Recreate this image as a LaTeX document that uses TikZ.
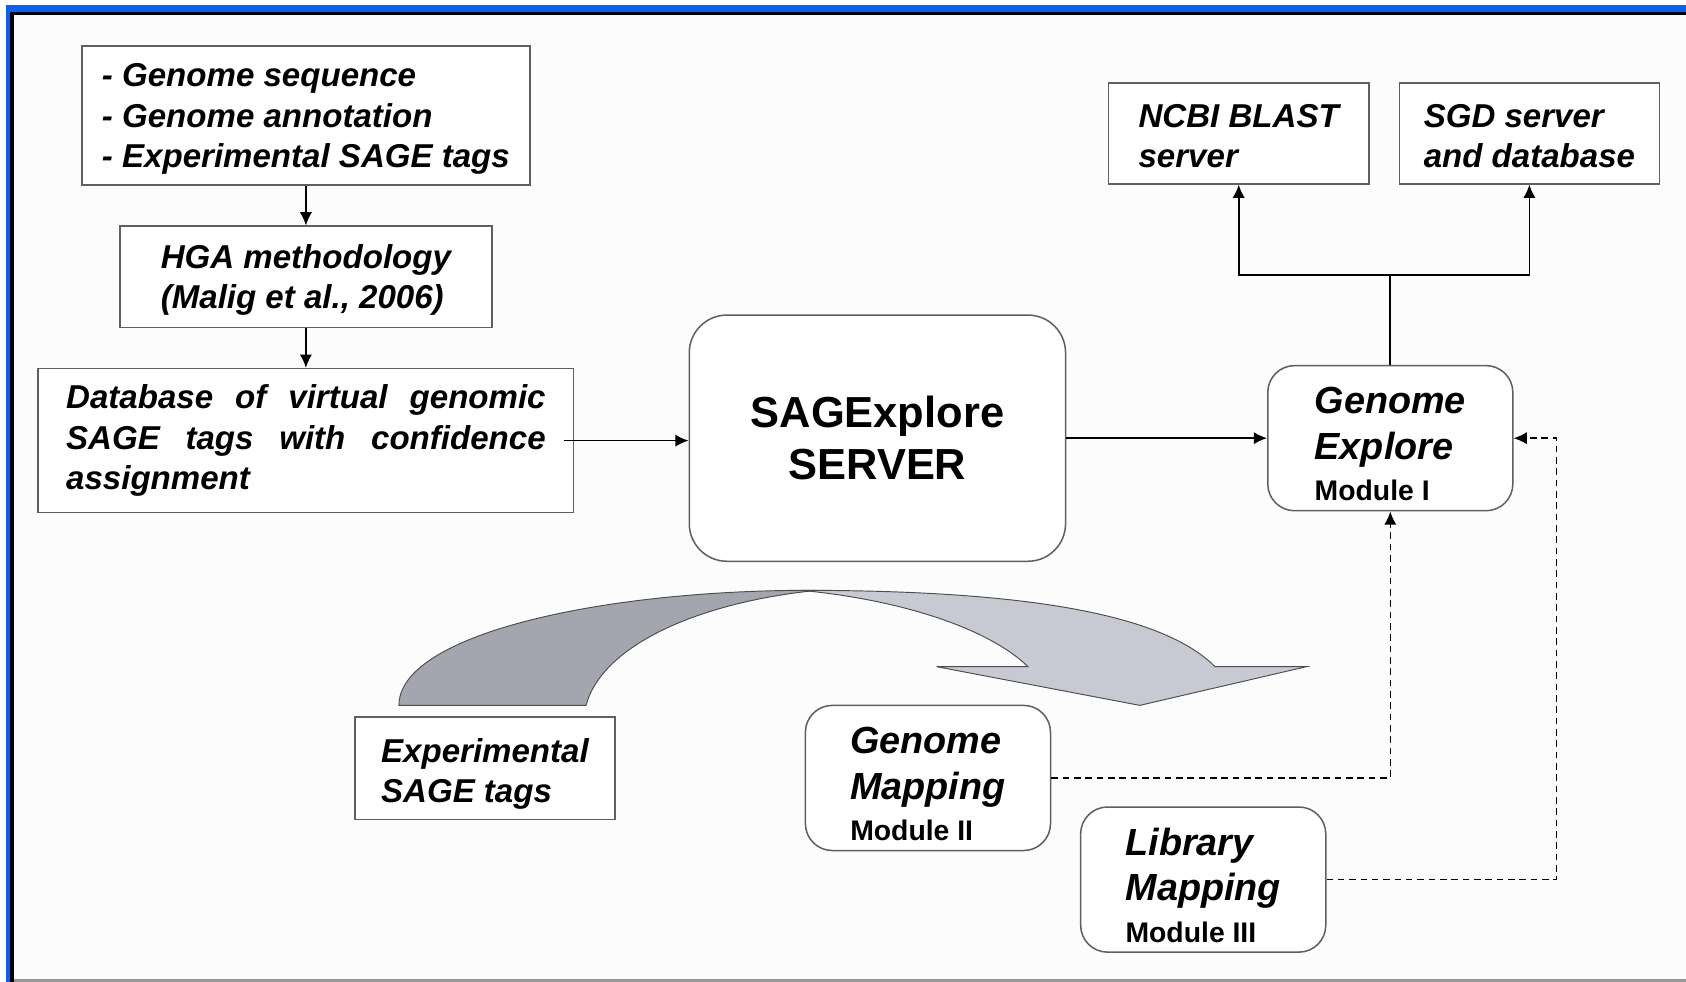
\documentclass[tikz,border=0pt]{standalone}
\usepackage{fontspec}
\setmainfont{Liberation Sans}
\usetikzlibrary{positioning,arrows.meta}
\definecolor{frameblue}{RGB}{8,96,246}
\definecolor{boxgray}{RGB}{95,95,95}
\definecolor{paper}{RGB}{252,252,252}
\definecolor{ribbondark}{RGB}{163,166,175}
\definecolor{ribbonlight}{RGB}{200,202,211}
\newcommand{\bodyfont}{\fontsize{17.5}{21.3}\selectfont\bfseries\itshape}
\newcommand{\modtitle}{\fontsize{20}{24}\selectfont\bfseries\itshape}
\newcommand{\modfont}{\fontsize{15}{18}\selectfont\bfseries\upshape}
\newcommand{\lift}[1]{\rule{0pt}{#1}}
\hyphenpenalty=10000

\begin{document}
\begin{tikzpicture}[x=0.02cm,y=-0.02cm,>={Latex[length=7pt,width=6.5pt]},
 box/.style={draw=boxgray,line width=0.8pt,fill=white,align=left,inner sep=0pt,font=\bodyfont},
 lbox/.style={box,text depth=0pt},
 modbox/.style={lbox,rounded corners=0.5cm,minimum width=4.56cm,minimum height=2.7cm,font=\modtitle},
 conn/.style={line width=0.9pt},
 dconn/.style={line width=0.8pt,dash pattern=on 3.5pt off 2.5pt}]
 \useasboundingbox (0,0) rectangle (1568,913);
 % frame
 \fill[white] (0,0) rectangle (1568,913);
 \fill[frameblue] (5.6,4.6) rectangle (1568,913);
 \fill[black] (9.3,11.2) rectangle (1568,913);
 \fill[paper] (13,14) rectangle (1568,910.5);
 \fill[black!40] (13,910.5) rectangle (1568,913);
 % input chain
 \node[lbox,minimum width=8.34cm,minimum height=2.58cm](genome) at (284.5,107.5)
   {- Genome sequence\\- Genome annotation\\- Experimental SAGE tags};
 \node[lbox,minimum width=6.92cm,minimum height=1.88cm,below=0.74cm of genome](hga)
   {HGA methodology\\(Malig et al., 2006)};
 \node[box,align=justify,text width=8.92cm,minimum width=9.96cm,minimum height=2.68cm,below=0.74cm of hga](db)
   {Database of virtual genomic SAGE tags with confidence assignment};
 \node[box,rounded corners=0.7cm,align=center,minimum width=7cm,minimum height=4.58cm,
   font=\fontsize{23}{27.3}\selectfont\bfseries](server) at (816,407.5) {SAGExplore\\SERVER};
 % external servers
 \node[lbox,minimum width=4.84cm,minimum height=1.88cm](ncbi) at (1152,124) {\lift{15.3pt}NCBI BLAST\\server};
 \node[lbox,minimum width=4.84cm,minimum height=1.88cm,right=0.54cm of ncbi](sgd) {\lift{15.3pt}SGD server\\and database};
 % modules
 \node[modbox](ge) at (1293,407.5) {\lift{20.3pt}Genome\\Explore\\[-2pt]{\modfont Module I}};
 \node[modbox](gm) at (863,723.5) {\lift{20.3pt}Genome\\Mapping\\[-2pt]{\modfont Module II}};
 \node[modbox](lm) at (1119,818) {\lift{20.3pt}Library\\Mapping\\[-2pt]{\modfont Module III}};
 \node[lbox,minimum width=4.84cm,minimum height=1.9cm](exp) at (451,714.5) {\lift{14.8pt}Experimental\\SAGE tags};
 % ribbon arrow
 \filldraw[fill=ribbondark,draw=black!70,line width=0.5pt]
   (371,656) .. controls (371,590) and (560,548) .. (760,549)
   .. controls (650,560) and (560,600) .. (545,656) -- cycle;
 \filldraw[fill=ribbonlight,draw=black!70,line width=0.5pt]
   (745,549) .. controls (950,549) and (1080,570) .. (1130,620) -- (1215,620) -- (1060,656)
   -- (871,620) -- (956,620) .. controls (920,585) and (840,558) .. (745,549) -- cycle;
 % connectors
 \draw[->,conn](genome)--(hga);
 \draw[->,conn](hga)--(db);
 \draw[->,conn]([xshift=-0.2cm]db.east)--(db.east-|server.west);
 \draw[->,conn](server)--(ge);
 \draw[conn](ge.north)--(1293,256) coordinate(split);
 \draw[->,conn](split)-|(ncbi.south);
 \draw[->,conn](split)-|(sgd.south);
 \draw[->,dconn](gm.east)-|(ge.south);
 \draw[->,dconn](lm.east)--++(214,0)|-(ge.east);
\end{tikzpicture}
\end{document}
